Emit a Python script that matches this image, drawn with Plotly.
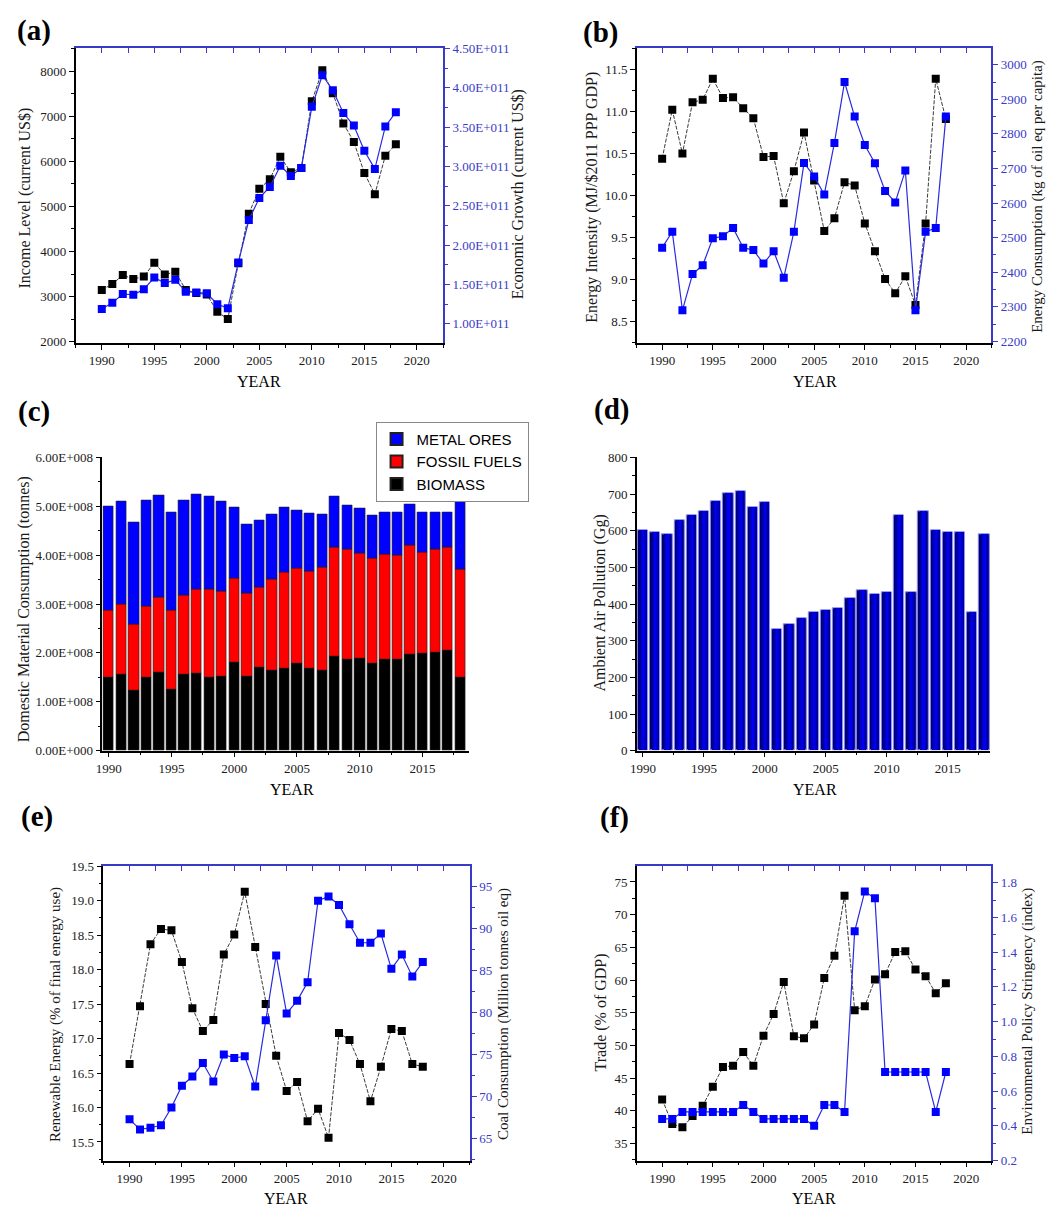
import plotly.graph_objects as go

# ---------------- data ----------------
years = list(range(1990, 2019))

income_level = [3150, 3280, 3480, 3390, 3445, 3750, 3490, 3550, 3150, 3080, 3050, 2665, 2505, 3740, 4840,
                5390, 5600, 6100, 5760, 5850, 7330, 8015, 7510, 6840, 6430, 5740, 5270, 6125, 6380]
economic_growth_e11 = [1.19, 1.27, 1.38, 1.37, 1.44, 1.59, 1.52, 1.56, 1.41, 1.40, 1.39, 1.25, 1.20, 1.78, 2.32,
                       2.60, 2.74, 3.01, 2.88, 2.98, 3.76, 4.16, 3.97, 3.68, 3.52, 3.20, 2.97, 3.51, 3.69]

energy_intensity = [10.44, 11.02, 10.50, 11.11, 11.14, 11.39, 11.16, 11.17, 11.04, 10.92, 10.46, 10.47, 9.91, 10.29,
                    10.75, 10.18, 9.58, 9.73, 10.16, 10.12, 9.67, 9.34, 9.01, 8.84, 9.04, 8.70, 9.67, 11.39, 10.91]
energy_consumption = [2471, 2517, 2290, 2395, 2420, 2498, 2504, 2528, 2471, 2464, 2425, 2461, 2384, 2517, 2716,
                      2677, 2625, 2774, 2950, 2850, 2768, 2715, 2635, 2602, 2694, 2290, 2517, 2528, 2850]

biomass_e8 = [1.50, 1.57, 1.24, 1.49, 1.60, 1.26, 1.57, 1.59, 1.50, 1.53, 1.81, 1.53, 1.71, 1.65, 1.69,
              1.79, 1.69, 1.65, 1.92, 1.87, 1.88, 1.79, 1.87, 1.86, 1.98, 2.00, 2.02, 2.05, 1.49]
fossil_e8 = [1.38, 1.42, 1.35, 1.47, 1.54, 1.62, 1.61, 1.70, 1.80, 1.73, 1.71, 1.69, 1.64, 1.86, 1.96,
             1.94, 1.97, 2.09, 2.24, 2.24, 2.16, 2.14, 2.14, 2.13, 2.21, 2.05, 2.09, 2.11, 2.21]
metal_e8 = [2.12, 2.11, 2.09, 2.16, 2.09, 2.00, 1.95, 1.96, 1.91, 1.83, 1.46, 1.41, 1.36, 1.32, 1.33,
            1.19, 1.20, 1.09, 1.04, 0.91, 0.92, 0.88, 0.86, 0.89, 0.85, 0.82, 0.76, 0.71, 1.42]

air_pollution = [602, 596, 591, 629, 643, 653, 680, 702, 707, 663, 677, 331, 344, 360, 378,
                 384, 387, 416, 438, 426, 431, 643, 431, 653, 602, 596, 596, 378, 591]

renewable = [16.63, 17.47, 18.37, 18.59, 18.57, 18.11, 17.44, 17.11, 17.27, 18.22, 18.51, 19.13, 18.33, 17.50,
             16.75, 16.24, 16.37, 15.80, 15.98, 15.56, 17.08, 16.98, 16.63, 16.09, 16.59, 17.14, 17.11, 16.63, 16.59]
coal = [67.3, 66.1, 66.3, 66.6, 68.7, 71.3, 72.4, 74.0, 71.8, 75.0, 74.6, 74.8, 71.2, 79.1, 86.8,
        79.9, 81.4, 83.6, 93.3, 93.8, 92.8, 90.5, 88.3, 88.3, 89.4, 85.2, 86.9, 84.3, 86.0]

trade = [41.75, 38.0, 37.5, 39.2, 40.8, 43.7, 46.7, 46.9, 49.0, 46.9, 51.5, 54.8, 59.7, 51.4, 51.1,
         53.2, 60.3, 63.7, 72.9, 55.4, 56.0, 60.1, 60.9, 64.3, 64.4, 61.6, 60.6, 58.0, 59.5]
stringency = [0.44, 0.44, 0.48, 0.48, 0.48, 0.48, 0.48, 0.48, 0.52, 0.48, 0.44, 0.44, 0.44, 0.44, 0.44,
              0.40, 0.52, 0.52, 0.48, 1.52, 1.75, 1.71, 0.71, 0.71, 0.71, 0.71, 0.71, 0.48, 0.71]

e11_ticks = [1.0, 1.5, 2.0, 2.5, 3.0, 3.5, 4.0, 4.5]
e8_ticks = [0, 1, 2, 3, 4, 5, 6]

# ---------------- styling helpers ----------------
W, H = 1062, 1214
SERIF = "Liberation Serif"
BLUE_AX = "#3a3ac8"
TICKFONT = dict(family=SERIF, size=13, color="#1a1a1a")
BLUE_TICKFONT = dict(family=SERIF, size=13, color=BLUE_AX)


def fx(px):
    return px / W


def fy(py):
    return 1 - py / H


fig = go.Figure()
layout = {}
annotations = []


def x_main(dom, rng, anchor, dtick=5, minor=2.5):
    return dict(domain=dom, range=rng, anchor=anchor, showline=True, linecolor="black", linewidth=1.5,
                ticks="outside", ticklen=5, tickwidth=1.2, tickcolor="black", dtick=dtick, tick0=1990,
                tickfont=TICKFONT, showgrid=False, zeroline=False,
                minor=dict(ticks="outside", dtick=minor, tick0=1990, ticklen=3, tickcolor="black"))


def x_top(dom, rng, anchor, overlay):
    return dict(domain=dom, range=rng, anchor=anchor, overlaying=overlay, side="top", showline=True,
                linecolor=BLUE_AX, linewidth=1.5, ticks="inside", ticklen=5, tickwidth=1.2, tickcolor=BLUE_AX,
                dtick=2.5, tick0=1990, showticklabels=False, showgrid=False, zeroline=False)


def y_left(dom, rng, anchor, dtick, minor, **kw):
    d = dict(domain=dom, range=rng, anchor=anchor, showline=True, linecolor="black", linewidth=1.5,
             ticks="outside", ticklen=5, tickwidth=1.2, tickcolor="black", dtick=dtick,
             tickfont=TICKFONT, showgrid=False, zeroline=False,
             minor=dict(ticks="outside", dtick=minor, ticklen=3, tickcolor="black"))
    d.update(kw)
    return d


def y_right(dom, rng, anchor, overlay, dtick, minor, **kw):
    d = dict(domain=dom, range=rng, anchor=anchor, overlaying=overlay, side="right", showline=True,
             linecolor=BLUE_AX, linewidth=1.5, ticks="outside", ticklen=5, tickwidth=1.2, tickcolor=BLUE_AX,
             dtick=dtick, tickfont=BLUE_TICKFONT, showgrid=False, zeroline=False,
             minor=dict(ticks="outside", dtick=minor, ticklen=3, tickcolor=BLUE_AX))
    d.update(kw)
    return d


def black_line(y, xa, ya):
    return go.Scatter(x=years, y=y, xaxis=xa, yaxis=ya, mode="lines+markers", showlegend=False,
                      line=dict(color="#3a3a3a", width=1, dash="4px,1.5px"),
                      marker=dict(symbol="square", size=8, color="black", line=dict(width=0)))


def blue_line(y, xa, ya):
    return go.Scatter(x=years, y=y, xaxis=xa, yaxis=ya, mode="lines+markers", showlegend=False,
                      line=dict(color="#2a2ae0", width=1.2),
                      marker=dict(symbol="square", size=8, color="#0000ff", line=dict(width=0)))


def vtitle(text, px, py, size=16, color="#1a1a1a"):
    annotations.append(dict(text=text, x=fx(px), y=fy(py), xref="paper", yref="paper", showarrow=False,
                            textangle=-90, xanchor="center", yanchor="middle",
                            font=dict(family=SERIF, size=size, color=color)))


def htitle(text, px, py, size=16, bold=False):
    annotations.append(dict(text=("<b>%s</b>" % text) if bold else text, x=fx(px), y=fy(py), xref="paper",
                            yref="paper", showarrow=False, xanchor="center", yanchor="middle",
                            font=dict(family=SERIF, size=size, color="black")))


XR = [1987.5, 2022.5]

# ---------------- (a) ----------------
xa_dom = [fx(69), fx(439)]
ya_dom = [fy(340), fy(42)]
layout["xaxis"] = x_main(xa_dom, XR, "y")
layout["yaxis"] = y_left(ya_dom, [1978, 8500], "x", 1000, 500)
layout["xaxis2"] = x_top(xa_dom, XR, "y2", "x")
layout["yaxis2"] = y_right(ya_dom, [0.76e11, 4.5e11], "x2", "y", None, 0.25e11,
                           tickmode="array", tickvals=[v * 1e11 for v in e11_ticks],
                           ticktext=["%.2fE+011" % v for v in e11_ticks])
layout["yaxis2"]["minor"]["tick0"] = 0
fig.add_trace(black_line(income_level, "x", "y"))
fig.add_trace(blue_line([v * 1e11 for v in economic_growth_e11], "x2", "y2"))

# ---------------- (b) ----------------
xb_dom = [fx(634), fx(991)]
layout["xaxis3"] = x_main(xb_dom, XR, "y3")
layout["yaxis3"] = y_left(ya_dom, [8.25, 11.75], "x3", 0.5, 0.25, tickformat=".1f")
layout["xaxis4"] = x_top(xb_dom, XR, "y4", "x3")
layout["yaxis4"] = y_right(ya_dom, [2196, 3047], "x4", "y3", 100, 50)
fig.add_trace(black_line(energy_intensity, "x3", "y3"))
fig.add_trace(blue_line(energy_consumption, "x4", "y4"))

# ---------------- (c) ----------------
xc_dom = [fx(96), fx(465)]
yc_dom = [fy(753), fy(456)]
layout["xaxis5"] = x_main(xc_dom, [1989.5, 2018.7], "y5")
layout["yaxis5"] = y_left(yc_dom, [0, 6e8], "x5", None, 0.5e8, tickmode="array",
                          tickvals=[v * 1e8 for v in e8_ticks],
                          ticktext=[("%.2fE+008" % v) if v else "0.00E+000" for v in e8_ticks])
layout["yaxis5"]["minor"]["tick0"] = 0
biomass = [v * 1e8 for v in biomass_e8]
fossil = [v * 1e8 for v in fossil_e8]
metal = [v * 1e8 for v in metal_e8]
base_metal = [a + b for a, b in zip(biomass, fossil)]
bar_line = dict(color="#202020", width=0.6)
fig.add_trace(go.Bar(x=years, y=biomass, base=[0] * len(years), name="BIOMASS", xaxis="x5", yaxis="y5",
                     width=0.82, marker=dict(color="#000000", line=bar_line)))
fig.add_trace(go.Bar(x=years, y=fossil, base=biomass, name="FOSSIL FUELS", xaxis="x5", yaxis="y5",
                     width=0.82, marker=dict(color="#ff0000", line=bar_line)))
fig.add_trace(go.Bar(x=years, y=metal, base=base_metal, name="METAL ORES", xaxis="x5", yaxis="y5",
                     width=0.82, marker=dict(color="#0000ff", line=bar_line)))

# ---------------- (d) ----------------
xd_dom = [fx(634), fx(990)]
layout["xaxis6"] = x_main(xd_dom, [1989.5, 2018.5], "y6")
layout["yaxis6"] = y_left(yc_dom, [0, 800], "x6", 100, 50)
layers = [(0.84, "#00006a", dict(color="#8a8aff", width=1)),
          (0.62, "#000098", dict(width=0)),
          (0.40, "#0000c4", dict(width=0)),
          (0.18, "#0000ee", dict(width=0))]
for w, c, ln in layers:
    fig.add_trace(go.Bar(x=years, y=air_pollution, xaxis="x6", yaxis="y6", width=w, showlegend=False,
                         marker=dict(color=c, line=ln)))

# ---------------- (e) ----------------
xe_dom = [fx(97), fx(466)]
ye_dom = [fy(1168), fy(870)]
layout["xaxis7"] = x_main(xe_dom, XR, "y7")
layout["yaxis7"] = y_left(ye_dom, [15.23, 19.5], "x7", 0.5, 0.25, tickformat=".1f")
layout["xaxis8"] = x_top(xe_dom, XR, "y8", "x7")
layout["yaxis8"] = y_right(ye_dom, [62.4, 97.4], "x8", "y7", 5, 2.5)
fig.add_trace(black_line(renewable, "x7", "y7"))
fig.add_trace(blue_line(coal, "x8", "y8"))

# ---------------- (f) ----------------
xf_dom = [fx(634), fx(991)]
layout["xaxis9"] = x_main(xf_dom, XR, "y9")
layout["yaxis9"] = y_left(ye_dom, [32.4, 77.4], "x9", 5, 2.5)
layout["xaxis10"] = x_top(xf_dom, XR, "y10", "x9")
layout["yaxis10"] = y_right(ye_dom, [0.2, 1.895], "x10", "y9", 0.2, 0.1, tickformat=".1f")
fig.add_trace(black_line(trade, "x9", "y9"))
fig.add_trace(blue_line(stringency, "x10", "y10"))

# ---------------- titles ----------------
for lbl, px, py in [("(a)", 27, 24), ("(b)", 597, 26), ("(c)", 27, 410),
                    ("(d)", 609, 408), ("(e)", 30, 820), ("(f)", 612, 821)]:
    htitle(lbl, px, py, size=29, bold=True)

for px, py in [(254, 379), (813, 379), (287, 792), (813, 792), (281, 1206), (812, 1206)]:
    htitle("YEAR", px, py, size=16)

vtitle("Income Level (current US$)", 18, 193)
vtitle("Economic Growth (current US$)", 514, 190)
vtitle("Energy Intensity (MJ/$2011 PPP GDP)", 588, 193)
vtitle("Energy Consumption (kg of oil eq per capita)", 1037, 192, size=15)
vtitle("Domestic Material Consumption (tonnes)", 18, 610)
vtitle("Ambient Air Pollution (Gg)", 596, 604)
vtitle("Renewable Energy (% of final energy use)", 49, 1020, size=15)
vtitle("Coal Consumption (Million tonnes oil eq)", 500, 1020, size=15)
vtitle("Trade (% of GDP)", 598, 1018)
vtitle("Environmental Policy Stringency (index)", 1027, 1017, size=15)

fig.update_layout(
    width=W, height=H, margin=dict(l=0, r=0, t=0, b=0),
    paper_bgcolor="white", plot_bgcolor="white",
    barmode="overlay", bargap=0,
    font=dict(family=SERIF, color="#1a1a1a"),
    showlegend=True,
    legend=dict(x=fx(371), y=fy(420), xanchor="left", yanchor="top", traceorder="reversed",
                bgcolor="white", bordercolor="#888888", borderwidth=1,
                font=dict(family="Liberation Sans", size=15, color="black"),
                itemwidth=30, tracegroupgap=0, itemsizing="constant"),
    annotations=annotations,
    **layout,
)

fig.write_html("out.html")
